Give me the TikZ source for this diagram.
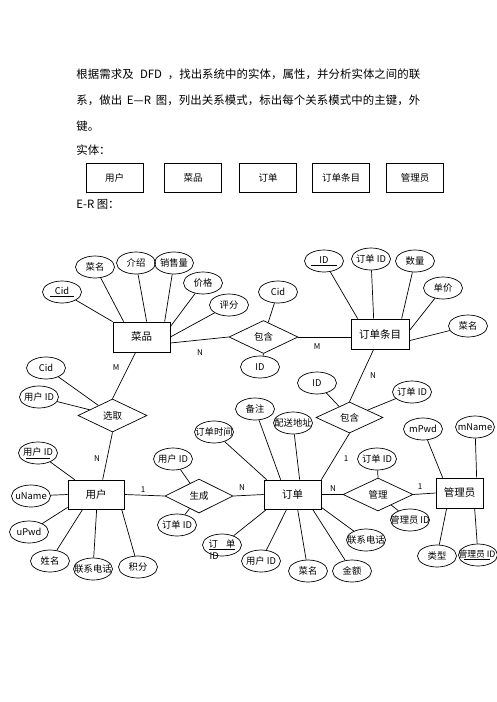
\documentclass[tikz,border=0pt]{standalone}
\usepackage{fontspec}
\setmainfont{Noto Sans CJK SC}
\usetikzlibrary{shapes.geometric}
\ExplSyntaxOn
\NewDocumentCommand\spreadtext{m}{\tl_map_inline:nn{#1}{##1\hfil}\unskip}
\ExplSyntaxOff
\newcommand\zt[1]{\makebox[0pt]{#1}}
\newcommand\ukey[2]{\underline{\makebox[#1]{#2}}}
\begin{document}
\begin{tikzpicture}[x=1pt,y=-1pt,
  line width=0.7pt,
  txt/.style={anchor=west, inner sep=0pt, font=\fontsize{11.4}{13}\selectfont},
  topbox/.style={draw, line width=1pt, rectangle, minimum width=57pt, minimum height=29pt, inner sep=0pt, font=\fontsize{9.5}{11}\selectfont},
  attr/.style={draw, ellipse, minimum width=39pt, minimum height=22pt, inner sep=0pt, font=\fontsize{9.3}{11}\selectfont},
  ent/.style={draw, rectangle, inner sep=0pt, font=\fontsize{10.5}{12}\selectfont},
  rel/.style={draw, diamond, inner sep=0pt, minimum width=69pt, minimum height=33pt, font=\fontsize{9.5}{11}\selectfont},
  card/.style={inner sep=0pt, font=\fontsize{8}{9}\selectfont}]
\path[use as bounding box, fill=white] (0,0) rectangle (496,702);

% ---- text ----
\node[txt] (p1) at (76,74) {\makebox[344pt][s]{\spreadtext{根据需求及{\hspace{0.55em}DFD\hspace{0.5em}}，找出系统中的实体，属性，并分析实体之间的联}}};
\node[txt] (p2) at (76,100) {\makebox[344pt][s]{\spreadtext{系，做出{\hspace{0.4em}E—R\hspace{0.4em}}图，列出关系模式，标出每个关系模式中的主键，外}}};
\node[txt] (p3) at (76,126) {键。};
\node[txt] (p4) at (76,150) {实体：};
\node[txt] (p5) at (76,204) {E-R 图：};

% ---- entity list ----
\node[topbox] (t1) at (114.5,177.5) {用户};
\node[topbox] (t2) at (193,177.5) {菜品};
\node[topbox] (t3) at (268,177.5) {订单};
\node[topbox] (t4) at (341,177.5) {订单条目};
\node[topbox] (t5) at (415,177.5) {管理员};

% ---- entities ----
\node[ent, minimum width=57pt, minimum height=30pt] (cp) at (141.5,337) {菜品};
\node[ent, minimum width=58pt, minimum height=30pt] (oi) at (380,334) {订单条目};
\node[ent, minimum width=56pt, minimum height=29pt] (u) at (96,494.5) {用户};
\node[ent, minimum width=57pt, minimum height=29pt] (o) at (292.5,494.5) {订单};
\node[ent, minimum width=47pt, minimum height=30pt] (a) at (459.5,493) {管理员};

% ---- relationships ----
\node[rel] (bh1) at (263.5,337) {\zt{包含}};
\node[rel] (xq) at (112.5,415.5) {\zt{选取}};
\node[rel, minimum width=67pt, minimum height=31pt] (bh2) at (349.5,417.5) {\zt{包含}};
\node[rel, minimum width=68pt, minimum height=34pt] (sc) at (199,496) {\zt{生成}};
\node[rel, minimum width=70pt] (gl) at (378,494.5) {\zt{管理}};

% ---- attributes ----
\node[attr] (c1) at (62,292) {\zt{\ukey{24pt}{Cid}}};
\node[attr] (cm1) at (95,267) {\zt{菜名}};
\node[attr] (js) at (136,263) {\zt{介绍}};
\node[attr] (xsl) at (174,263) {\zt{销售量}};
\node[attr] (jg) at (203,283) {\zt{价格}};
\node[attr] (pf) at (229,305) {\zt{评分}};
\node[attr] (c2) at (278,292) {\zt{Cid}};
\node[attr] (id1) at (324,261) {\zt{\ukey{26pt}{ID}}};
\node[attr] (oid1) at (371,259) {\zt{订单 ID}};
\node[attr] (sl) at (415,261) {\zt{数量}};
\node[attr] (dj) at (443,288) {\zt{单价}};
\node[attr] (cm2) at (468,326) {\zt{菜名}};
\node[attr] (id2) at (260,367) {\zt{ID}};
\node[attr] (c3) at (46,368) {\zt{Cid}};
\node[attr] (uid1) at (39,397) {\zt{用户 ID}};
\node[attr] (uid2) at (38,453) {\zt{\ukey{24pt}{用户 ID}}};
\node[attr] (un) at (31,496) {\zt{uName}};
\node[attr] (up) at (29,532) {\zt{uPwd}};
\node[attr] (xm) at (50,561) {\zt{姓名}};
\node[attr] (lx1) at (93,569) {\zt{联系电话}};
\node[attr] (jf) at (138,567) {\zt{积分}};
\node[attr] (uid3) at (173,459) {\zt{用户 ID}};
\node[attr] (oid3) at (177,525) {\zt{订单 ID}};
\node[attr] (ddsj) at (214,432) {\zt{订单时间}};
\node[attr] (bz) at (255,409) {\zt{备注}};
\node[attr] (psdz) at (293,423) {\zt{配送地址}};
\node[attr] (id3) at (317,383) {\zt{ID}};
\node[attr] (oid4) at (412,392) {\zt{订单 ID}};
\node[attr] (oid5) at (377,459) {\zt{订单 ID}};
\node[attr] (mpwd) at (423,429) {\zt{mPwd}};
\node[attr] (mname) at (475,427) {\zt{mName}};
\node[attr, label={[inner sep=0pt, label distance=-4pt, font=\fontsize{9.3}{11}\selectfont]-112:ID}] (oidk) at (222,545) {\zt{\raisebox{2pt}{\underline{订\hspace{0.9em}单}}}};
\node[attr] (uid4) at (261,561) {\zt{用户 ID}};
\node[attr] (cm3) at (308,571) {\zt{菜名}};
\node[attr] (je) at (352,571) {\zt{金额}};
\node[attr] (lx2) at (366,540) {\zt{联系电话}};
\node[attr] (gid1) at (410,520) {\zt{管理员 ID}};
\node[attr] (lxing) at (437,556) {\zt{类型}};
\node[attr, font=\fontsize{8.8}{10}\selectfont] (gid2) at (478,555) {\zt{\hspace*{-2pt}\ukey{26pt}{管理员 ID}}};

% ---- cardinalities ----
\node[card] (n1) at (200,353) {N};
\node[card] (m1) at (116,368) {M};
\node[card] (m2) at (317,347) {M};
\node[card] (n2) at (373,376) {N};
\node[card] (n3) at (97,459) {N};
\node[card] (o1) at (143,490) {1};
\node[card] (n4) at (242,488) {N};
\node[card] (n5) at (333,489) {N};
\node[card] (o2) at (346,459) {1};
\node[card] (o3) at (420,487) {1};

% ---- connectors: 菜品 ----
\draw (c1) -- (cp.north west);
\draw (cm1) -- ([xshift=11pt]cp.north west);
\draw (js) -- ([xshift=34pt]cp.north west);
\draw (xsl) -- ([xshift=52pt]cp.north west);
\draw (jg) -- ([yshift=-5pt]cp.north east);
\draw (pf) -- (cp.east);
\draw ([yshift=-6pt]cp.east) -- (bh1.west);
\draw ([xshift=23pt]cp.south west) -- (xq.north);
% 包含 (top)
\draw (c2) -- (bh1);
\draw (id2) -- (bh1.south);
\draw (bh1.east) -- ([yshift=-3pt]oi.west);
% 订单条目
\draw (id1) -- ([xshift=7pt]oi.north west);
\draw (oid1) -- ([xshift=23pt]oi.north west);
\draw (sl) -- ([xshift=51pt]oi.north west);
\draw (dj) -- ([yshift=-12pt]oi.north east);
\draw (cm2) -- ([yshift=-22pt]oi.north east);
\draw ([xshift=23pt]oi.south west) -- (bh2.north);
% 选取
\draw (c3) -- (xq);
\draw (uid1) -- (xq);
\draw (xq.south) -- ([xshift=35pt]u.north west);
% 用户
\draw (uid2) -- ([xshift=7pt]u.north west);
\draw (un) -- (u.west);
\draw (up) -- ([yshift=2pt]u.south west);
\draw (xm) -- ([xshift=15pt]u.south west);
\draw (lx1) -- ([xshift=29pt]u.south west);
\draw (jf) -- ([xshift=54pt]u.south west);
\draw (u.east) -- (sc.west);
% 生成
\draw (uid3) -- (sc);
\draw (oid3) -- (sc);
\draw (sc.east) -- (o.west);
% 订单
\draw (ddsj) -- ([xshift=3pt]o.north west);
\draw (bz) -- ([xshift=17pt]o.north west);
\draw (psdz) -- ([xshift=36pt]o.north west);
\draw (bh2.south) -- (o.north east);
\draw (oidk) -- ([xshift=3pt]o.south west);
\draw (uid4) -- ([xshift=23pt]o.south west);
\draw (cm3) -- ([xshift=34pt]o.south west);
\draw (je) -- ([xshift=49pt]o.south west);
\draw (lx2) -- ([yshift=2pt]o.south east);
\draw (o.east) -- (gl.west);
% 包含 (lower)
\draw (id3) -- (bh2);
\draw (oid4) -- (bh2);
% 管理
\draw (oid5) -- (gl.north);
\draw (gid1) -- (gl);
\draw (gl.east) -- (a.west);
% 管理员
\draw (mpwd) -- ([xshift=7pt]a.north west);
\draw (mname) -- ([xshift=41pt]a.north west);
\draw (lxing) -- ([xshift=11pt]a.south west);
\draw (gid2) -- ([xshift=39pt]a.south west);
\end{tikzpicture}
\end{document}
